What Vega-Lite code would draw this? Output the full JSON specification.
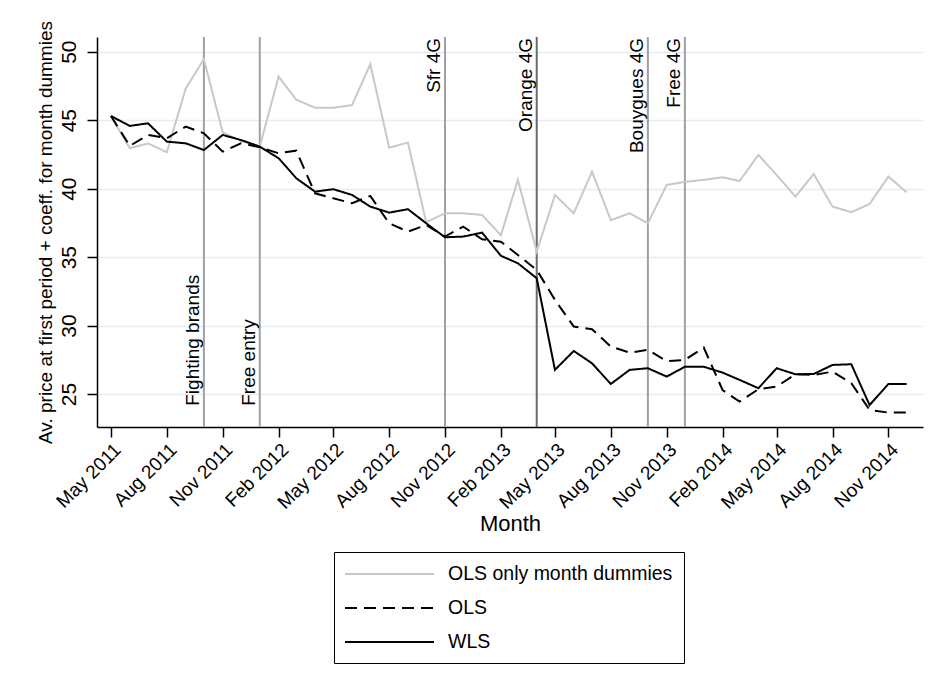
{
  "$schema": "https://vega.github.io/schema/vega-lite/v6.json",
  "width": 826,
  "height": 390,
  "autosize": {"type": "none"},
  "padding": {"left": 97, "top": 37, "right": 13, "bottom": 260},
  "background": "white",
  "config": {
    "font": "Liberation Sans",
    "view": {"stroke": null},
    "axis": {"labelColor": "black", "titleColor": "black", "tickColor": "black", "domainColor": "black", "titleFontWeight": "normal"}
  },
  "datasets": {
    "events": [
      {"date": "2011-10-01T00:00:00", "event": "Fighting brands"},
      {"date": "2012-01-01T00:00:00", "event": "Free entry"},
      {"date": "2012-11-01T00:00:00", "event": "Sfr 4G"},
      {"date": "2013-04-01T00:00:00", "event": "Orange 4G"},
      {"date": "2013-10-01T00:00:00", "event": "Bouygues 4G"},
      {"date": "2013-12-01T00:00:00", "event": "Free 4G"}
    ],
    "prices": [
      {"date": "2011-05-01T00:00:00", "OLS only month dummies": 45.3, "OLS": 45.3, "WLS": 45.3},
      {"date": "2011-06-01T00:00:00", "OLS only month dummies": 42.95, "OLS": 43.12, "WLS": 44.58},
      {"date": "2011-07-01T00:00:00", "OLS only month dummies": 43.3, "OLS": 43.92, "WLS": 44.77},
      {"date": "2011-08-01T00:00:00", "OLS only month dummies": 42.66, "OLS": 43.68, "WLS": 43.43},
      {"date": "2011-09-01T00:00:00", "OLS only month dummies": 47.3, "OLS": 44.53, "WLS": 43.31},
      {"date": "2011-10-01T00:00:00", "OLS only month dummies": 49.45, "OLS": 44.04, "WLS": 42.82},
      {"date": "2011-11-01T00:00:00", "OLS only month dummies": 44.1, "OLS": 42.7, "WLS": 43.92},
      {"date": "2011-12-01T00:00:00", "OLS only month dummies": 43.5, "OLS": 43.31, "WLS": 43.55},
      {"date": "2012-01-01T00:00:00", "OLS only month dummies": 43.07, "OLS": 43.02, "WLS": 43.07},
      {"date": "2012-02-01T00:00:00", "OLS only month dummies": 48.18, "OLS": 42.58, "WLS": 42.22},
      {"date": "2012-03-01T00:00:00", "OLS only month dummies": 46.5, "OLS": 42.77, "WLS": 40.76},
      {"date": "2012-04-01T00:00:00", "OLS only month dummies": 45.9, "OLS": 39.66, "WLS": 39.78},
      {"date": "2012-05-01T00:00:00", "OLS only month dummies": 45.9, "OLS": 39.3, "WLS": 39.96},
      {"date": "2012-06-01T00:00:00", "OLS only month dummies": 46.1, "OLS": 38.93, "WLS": 39.54},
      {"date": "2012-07-01T00:00:00", "OLS only month dummies": 49.08, "OLS": 39.47, "WLS": 38.69},
      {"date": "2012-08-01T00:00:00", "OLS only month dummies": 43.0, "OLS": 37.47, "WLS": 38.25},
      {"date": "2012-09-01T00:00:00", "OLS only month dummies": 43.36, "OLS": 36.86, "WLS": 38.5},
      {"date": "2012-10-01T00:00:00", "OLS only month dummies": 37.55, "OLS": 37.35, "WLS": 37.47},
      {"date": "2012-11-01T00:00:00", "OLS only month dummies": 38.2, "OLS": 36.5, "WLS": 36.45},
      {"date": "2012-12-01T00:00:00", "OLS only month dummies": 38.2, "OLS": 37.23, "WLS": 36.5},
      {"date": "2013-01-01T00:00:00", "OLS only month dummies": 38.08, "OLS": 36.3, "WLS": 36.79},
      {"date": "2013-02-01T00:00:00", "OLS only month dummies": 36.6, "OLS": 36.13, "WLS": 35.1},
      {"date": "2013-03-01T00:00:00", "OLS only month dummies": 40.65, "OLS": 35.16, "WLS": 34.55},
      {"date": "2013-04-01T00:00:00", "OLS only month dummies": 35.4, "OLS": 34.07, "WLS": 33.46},
      {"date": "2013-05-01T00:00:00", "OLS only month dummies": 39.54, "OLS": 31.88, "WLS": 26.77},
      {"date": "2013-06-01T00:00:00", "OLS only month dummies": 38.2, "OLS": 29.93, "WLS": 28.15},
      {"date": "2013-07-01T00:00:00", "OLS only month dummies": 41.24, "OLS": 29.74, "WLS": 27.25},
      {"date": "2013-08-01T00:00:00", "OLS only month dummies": 37.7, "OLS": 28.47, "WLS": 25.74},
      {"date": "2013-09-01T00:00:00", "OLS only month dummies": 38.2, "OLS": 28.03, "WLS": 26.77},
      {"date": "2013-10-01T00:00:00", "OLS only month dummies": 37.47, "OLS": 28.23, "WLS": 26.89},
      {"date": "2013-11-01T00:00:00", "OLS only month dummies": 40.27, "OLS": 27.4, "WLS": 26.28},
      {"date": "2013-12-01T00:00:00", "OLS only month dummies": 40.5, "OLS": 27.5, "WLS": 27.0},
      {"date": "2014-01-01T00:00:00", "OLS only month dummies": 40.64, "OLS": 28.4, "WLS": 27.0},
      {"date": "2014-02-01T00:00:00", "OLS only month dummies": 40.83, "OLS": 25.3, "WLS": 26.57},
      {"date": "2014-03-01T00:00:00", "OLS only month dummies": 40.56, "OLS": 24.45, "WLS": 26.04},
      {"date": "2014-04-01T00:00:00", "OLS only month dummies": 42.46, "OLS": 25.36, "WLS": 25.43},
      {"date": "2014-05-01T00:00:00", "OLS only month dummies": 41.0, "OLS": 25.55, "WLS": 26.89},
      {"date": "2014-06-01T00:00:00", "OLS only month dummies": 39.42, "OLS": 26.45, "WLS": 26.45},
      {"date": "2014-07-01T00:00:00", "OLS only month dummies": 41.07, "OLS": 26.4, "WLS": 26.47},
      {"date": "2014-08-01T00:00:00", "OLS only month dummies": 38.69, "OLS": 26.64, "WLS": 27.13},
      {"date": "2014-09-01T00:00:00", "OLS only month dummies": 38.28, "OLS": 25.8, "WLS": 27.18},
      {"date": "2014-10-01T00:00:00", "OLS only month dummies": 38.88, "OLS": 23.85, "WLS": 24.2},
      {"date": "2014-11-01T00:00:00", "OLS only month dummies": 40.88, "OLS": 23.65, "WLS": 25.74},
      {"date": "2014-12-01T00:00:00", "OLS only month dummies": 39.74, "OLS": 23.65, "WLS": 25.74}
    ]
  },
  "layer": [
    {
      "data": {"name": "events"},
      "mark": {"type": "rule", "strokeWidth": 2},
      "encoding": {
        "x": {"field": "date", "type": "temporal", "title": "Month"},
        "color": {"condition": {"test": "datum.event === 'Orange 4G'", "value": "#6a6a6a"}, "value": "#a0a0a0"}
      }
    },
    {
      "data": {"name": "events"},
      "transform": [{"filter": {"field": "event", "oneOf": ["Sfr 4G", "Orange 4G", "Bouygues 4G", "Free 4G"]}}],
      "mark": {"type": "text", "angle": -90, "align": "right", "baseline": "alphabetic", "dy": -5, "fontSize": 19, "color": "black"},
      "encoding": {
        "x": {"field": "date", "type": "temporal", "title": "Month"},
        "y": {"datum": 51.0, "type": "quantitative", "title": "Av. price at first period + coeff. for month dummies"},
        "text": {"field": "event"}
      }
    },
    {
      "data": {"name": "events"},
      "transform": [{"filter": {"field": "event", "oneOf": ["Fighting brands", "Free entry"]}}],
      "mark": {"type": "text", "angle": -90, "align": "left", "baseline": "alphabetic", "dy": -5, "fontSize": 19, "color": "black"},
      "encoding": {
        "x": {"field": "date", "type": "temporal", "title": "Month"},
        "y": {"datum": 24.15, "type": "quantitative", "title": "Av. price at first period + coeff. for month dummies"},
        "text": {"field": "event"}
      }
    },
    {
      "data": {"name": "prices"},
      "transform": [{"fold": ["OLS only month dummies", "OLS", "WLS"], "as": ["series", "value"]}],
      "mark": {"type": "line", "strokeWidth": 2},
      "encoding": {
        "x": {
          "field": "date", "type": "temporal", "title": "Month",
          "scale": {"domain": [{"year": 2011, "month": 4, "date": 8}, {"year": 2014, "month": 12, "date": 28}]},
          "axis": {
            "values": [
              {"year": 2011, "month": 5, "date": 1}, {"year": 2011, "month": 8, "date": 1}, {"year": 2011, "month": 11, "date": 1},
              {"year": 2012, "month": 2, "date": 1}, {"year": 2012, "month": 5, "date": 1}, {"year": 2012, "month": 8, "date": 1}, {"year": 2012, "month": 11, "date": 1},
              {"year": 2013, "month": 2, "date": 1}, {"year": 2013, "month": 5, "date": 1}, {"year": 2013, "month": 8, "date": 1}, {"year": 2013, "month": 11, "date": 1},
              {"year": 2014, "month": 2, "date": 1}, {"year": 2014, "month": 5, "date": 1}, {"year": 2014, "month": 8, "date": 1}, {"year": 2014, "month": 11, "date": 1}
            ],
            "format": "%b %Y",
            "labelAngle": -45, "labelAlign": "right", "labelBaseline": "top",
            "labelFontSize": 19, "labelPadding": 3, "labelFlush": false, "labelOverlap": false,
            "tickSize": 10, "tickWidth": 1.5, "domainWidth": 1.5, "grid": false,
            "titleFontSize": 22, "titlePadding": 1
          }
        },
        "y": {
          "field": "value", "type": "quantitative",
          "title": "Av. price at first period + coeff. for month dummies",
          "scale": {"domain": [22.6, 51.07], "nice": false, "zero": false},
          "axis": {
            "values": [25, 30, 35, 40, 45, 50],
            "labelAngle": -90, "labelAlign": "center", "labelBaseline": "bottom",
            "labelFontSize": 21, "labelPadding": 8,
            "tickSize": 10, "tickWidth": 1.5, "domainWidth": 1.5,
            "grid": true, "gridColor": "#e4edf0", "gridWidth": 1.5,
            "titleFontSize": 19, "titlePadding": 3
          }
        },
        "color": {
          "field": "series", "type": "nominal",
          "scale": {"domain": ["OLS only month dummies", "OLS", "WLS"], "range": ["#c8c8c8", "#000000", "#000000"]},
          "legend": {
            "title": null, "orient": "none", "legendX": 237, "legendY": 515, "direction": "vertical",
            "strokeColor": "black", "fillColor": "white", "padding": 11,
            "symbolType": "M-1.1,0H7.8", "symbolSize": 400, "symbolStrokeWidth": 2,
            "labelFontSize": 19.5, "labelOffset": 81, "rowPadding": 13, "labelLimit": 400, "labelColor": "black"
          }
        },
        "strokeDash": {
          "field": "series", "type": "nominal",
          "scale": {"domain": ["OLS only month dummies", "OLS", "WLS"], "range": [[1, 0], [12, 7], [1, 0]]},
          "legend": {
            "title": null, "orient": "none", "legendX": 237, "legendY": 515, "direction": "vertical",
            "strokeColor": "black", "fillColor": "white", "padding": 11,
            "symbolType": "M-1.1,0H7.8", "symbolSize": 400, "symbolStrokeWidth": 2,
            "labelFontSize": 19.5, "labelOffset": 81, "rowPadding": 13, "labelLimit": 400, "labelColor": "black"
          }
        }
      }
    }
  ]
}
